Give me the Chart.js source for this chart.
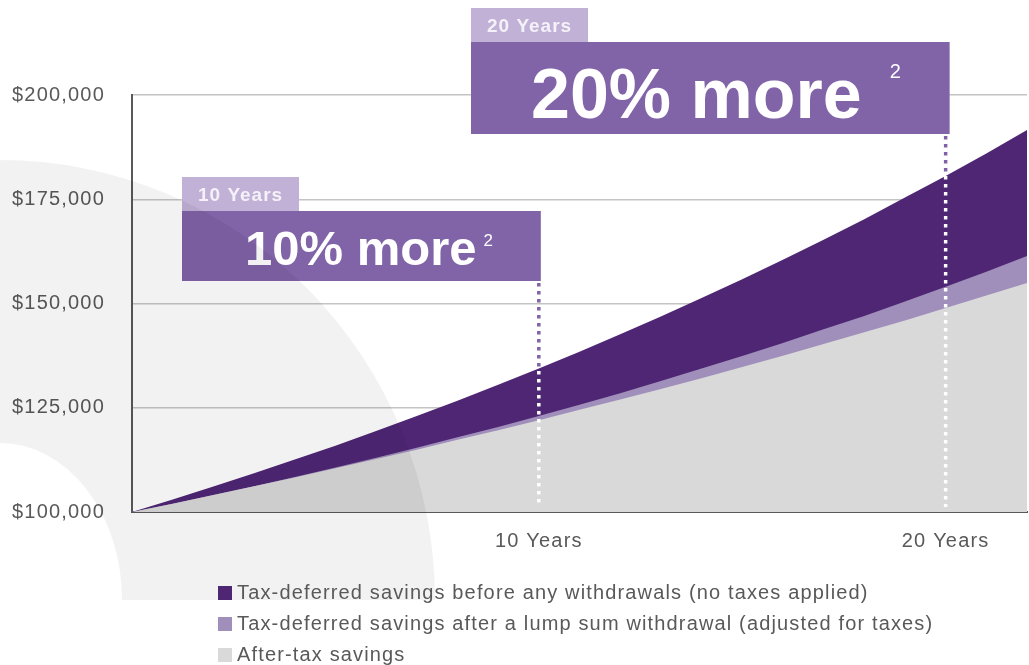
<!DOCTYPE html>
<html>
<head>
<meta charset="utf-8">
<script src="https://cdn.jsdelivr.net/npm/chart.js@4/dist/chart.umd.min.js"></script>
<style>
  html, body { margin: 0; padding: 0; background: #ffffff; }
  #wrap { position: relative; width: 1029px; height: 665px; overflow: hidden; }
  #chart { position: absolute; left: 0; top: 0; }
  #legend {
    position: absolute; left: 218px; top: 577px;
    font-family: "Liberation Sans", Arial, sans-serif; font-size: 20px; color: #595959;
    letter-spacing: 1.15px;
  }
  #legend .row { height: 31px; line-height: 31px; white-space: nowrap; }
  #legend .sw { display: inline-block; width: 14px; height: 14px; margin-right: 5px; vertical-align: -1px; }
</style>
</head>
<body>
<div id="wrap">
  <canvas id="chart" width="1029" height="665"></canvas>
  <div id="legend"></div>
</div>
<script>
// Growth of a $100,000 starting balance over 22 years

const years = [0, 1, 2, 3, 4, 5, 6, 7, 8, 9, 10, 11, 12, 13, 14, 15, 16, 17, 18, 19, 20, 21, 22];

const seriesNames = [
    'Tax-deferred savings before any withdrawals (no taxes applied)',
    'Tax-deferred savings after a lump sum withdrawal (adjusted for taxes)',
    'After-tax savings'
];

const beforeWithdrawals = [100000, 103000, 106100, 109300, 112600, 115900, 119400, 123000, 126700, 130500,
    134400, 138400, 142600, 146900, 151300, 155800, 160500, 165300, 170200, 175400, 180600, 186000, 191600];

const afterLumpSum = [100000, 102000, 104100, 106200, 108400, 110700, 113000, 115400, 117900, 120400,
    123000, 125700, 128500, 131400, 134400, 137400, 140500, 143800, 147000, 150500, 154000, 157600, 161400];

const afterTax = [100000, 102000, 104100, 106200, 108300, 110500, 112700, 114900, 117300, 119600,
    122000, 124500, 127000, 129500, 132100, 134800, 137500, 140300, 143100, 145900, 148900, 151900, 154900];

const yTicks = [100000, 125000, 150000, 175000, 200000];
const xTickYears = [10, 20];

const calloutYears = [10, 20];
const calloutLabels = ['10 Years', '20 Years'];
const calloutHeadlines = ['10% more', '20% more'];

const colors = ['#4f2674', '#a08fbb', '#d9d9d9'];
const FONT = '"Liberation Sans", Arial, sans-serif';

// Pixel layout of the two callout boxes
const calloutBoxes = [
    { left: 182, labelTop: 177, labelW: 117, boxTop: 211, boxH: 70, rightPad: 2, big: 49, sup: 17, textX: 63, supGap: 7, base: 54, supBase: 35, labelSize: 19, labelBase: 24 },
    { left: 471, labelTop: 8, labelW: 117, boxTop: 42, boxH: 92, rightPad: 4, big: 70, sup: 20, textX: 60, supGap: 28, base: 76, supBase: 36, labelSize: 19, labelBase: 24 }
];

const bgPlugin = {
    id: 'bg',
    beforeUpdate(chart) {
        chart.ctx.letterSpacing = '1.2px';
    },
    beforeDraw(chart) {
        const ctx = chart.ctx;
        ctx.letterSpacing = '1.2px';
        ctx.save();
        ctx.fillStyle = '#ffffff';
        ctx.fillRect(0, 0, chart.width, chart.height);
        ctx.restore();
    },
    afterDraw(chart) {
        // large soft arc in the background, shades everything it covers
        const ctx = chart.ctx;
        ctx.save();
        ctx.beginPath();
        ctx.ellipse(0, 600, 435, 440, 0, -Math.PI / 2, 0, false);
        ctx.lineTo(122, 600);
        ctx.ellipse(0, 600, 122, 157, 0, 0, -Math.PI / 2, true);
        ctx.closePath();
        ctx.fillStyle = 'rgba(0,0,0,0.05)';
        ctx.fill();
        ctx.restore();
    }
};

const calloutPlugin = {
    id: 'callouts',
    afterDatasetsDraw(chart) {
        const ctx = chart.ctx;
        const x = chart.scales.x;
        const area = chart.chartArea;
        const topPts = chart.getDatasetMeta(0).data;

        calloutYears.forEach((yr, i) => {
            const b = calloutBoxes[i];
            const idx = years.indexOf(yr);
            const px = x.getPixelForValue(idx);
            const yTop = topPts[idx].y;
            const right = px + b.rightPad;
            const lineStart = b.boxTop + b.boxH + 2;
            const lineEnd = area.bottom - 5;

            // dotted marker: purple above the data, white inside it
            ctx.save();
            ctx.lineWidth = 3.5;
            ctx.setLineDash([3.5, 4.5]);
            ctx.save();
            ctx.beginPath();
            ctx.rect(px - 5, 0, 10, yTop);
            ctx.clip();
            ctx.strokeStyle = '#8062a8';
            ctx.beginPath();
            ctx.moveTo(px, lineStart);
            ctx.lineTo(px, lineEnd);
            ctx.stroke();
            ctx.restore();
            ctx.save();
            ctx.beginPath();
            ctx.rect(px - 5, yTop, 10, area.bottom - yTop);
            ctx.clip();
            ctx.strokeStyle = '#ffffff';
            ctx.beginPath();
            ctx.moveTo(px, lineStart);
            ctx.lineTo(px, lineEnd);
            ctx.stroke();
            ctx.restore();
            ctx.restore();

            // boxes
            ctx.save();
            ctx.fillStyle = '#c1b1d6';
            ctx.fillRect(b.left, b.labelTop, b.labelW, b.boxTop - b.labelTop);
            ctx.fillStyle = '#8163a8';
            ctx.fillRect(b.left, b.boxTop, right - b.left, b.boxH);

            ctx.fillStyle = '#f4f1f8';
            ctx.textAlign = 'left';
            ctx.textBaseline = 'alphabetic';
            ctx.letterSpacing = '1px';
            ctx.font = 'bold ' + b.labelSize + 'px ' + FONT;
            ctx.fillText(calloutLabels[i], b.left + 16, b.labelTop + b.labelBase);

            ctx.letterSpacing = '0px';
            ctx.fillStyle = '#ffffff';
            ctx.font = 'bold ' + b.big + 'px ' + FONT;
            const w1 = ctx.measureText(calloutHeadlines[i]).width;
            const start = b.left + b.textX;
            ctx.fillText(calloutHeadlines[i], start, b.boxTop + b.base);
            ctx.font = b.sup + 'px ' + FONT;
            ctx.fillText('2', start + w1 + b.supGap, b.boxTop + b.supBase);
            ctx.restore();
        });
    }
};

const seriesData = [beforeWithdrawals, afterLumpSum, afterTax];

new Chart(document.getElementById('chart'), {
    type: 'line',
    data: {
        labels: years,
        datasets: seriesData.map((vals, i) => ({
            label: seriesNames[i],
            data: vals,
            backgroundColor: colors[i],
            borderColor: 'rgba(0,0,0,0)',
            borderWidth: 0,
            pointRadius: 0,
            tension: 0,
            fill: 'start',
            order: 3 - i
        }))
    },
    options: {
        responsive: false,
        animation: false,
        layout: { padding: { top: 95, right: 2, left: 0, bottom: 0 } },
        plugins: {
            legend: { display: false },
            tooltip: { enabled: false }
        },
        scales: {
            x: {
                offset: false,
                grid: { display: false, drawTicks: false },
                border: { display: true, color: '#595959', width: 2 },
                ticks: {
                    autoSkip: false,
                    maxRotation: 0,
                    padding: 17,
                    color: '#595959',
                    font: { family: FONT, size: 20 },
                    callback: function(val) {
                        const yr = years[val];
                        return xTickYears.includes(yr) ? yr + ' Years' : '';
                    }
                },
                afterFit(scale) {
                    scale.height = 665 - 512;
                    scale.paddingLeft = 0;
                    scale.paddingRight = 0;
                }
            },
            y: {
                min: yTicks[0],
                max: yTicks[yTicks.length - 1],
                afterBuildTicks(scale) { scale.ticks = yTicks.map(v => ({ value: v })); },
                grid: { color: '#c4c4c4', lineWidth: 1.5, drawTicks: false },
                border: { display: true, color: '#595959', width: 2 },
                ticks: {
                    padding: 27,
                    color: '#595959',
                    font: { family: FONT, size: 20 },
                    callback: v => '$' + v.toLocaleString('en-US')
                },
                afterFit(scale) {
                    scale.width = 132;
                    scale.paddingTop = 0;
                    scale.paddingBottom = 0;
                }
            }
        }
    },
    plugins: [bgPlugin, calloutPlugin]
});

// legend, stacked and left aligned
document.getElementById('legend').innerHTML = seriesNames.map((name, i) =>
    '<div class="row"><span class="sw" style="background:' + colors[i] + '"></span>' + name + '</div>'
).join('');
</script>
</body>
</html>
